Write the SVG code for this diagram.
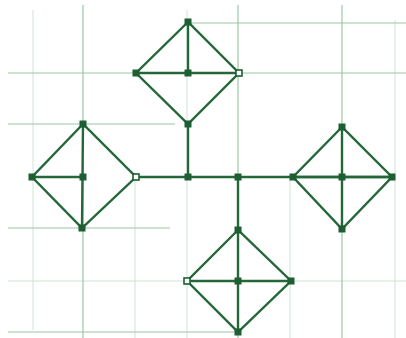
<svg xmlns="http://www.w3.org/2000/svg" width="406" height="338" viewBox="0 0 406 338">
<style>
.g{stroke:#9cc7a6;stroke-width:1.2;fill:none}
.gf{stroke:#cfe3d4;stroke-width:1;fill:none}
.e{stroke:#24683a;stroke-width:2.4;fill:none;stroke-linecap:round}
.n{fill:#1d5e32}
.h{fill:#fff;stroke:#1d5e32;stroke-width:1.6}
</style>
<rect width="406" height="338" fill="#fff"/>
<g id="grid">
<path class="gf" d="M33 10V330M135 180V338M290 180V338M395 20V338M187 10V338M8 281H406"/>
<path class="g" d="M83 5V338M238 5V338M342 5V338M190 23H406M8 73H406M8 124H175M8 228H170M8 332H240"/>
</g>
<g id="connectors">
<path class="e" d="M188 22L136 73L188 124L239 73Z M188 22V73 M136 73H239"/>
<path class="e" d="M188 124V177 M136 177H392 M238 177V230"/>
<path class="e" d="M83 124L32 177L82 228L136 177Z M83 124L82 228 M32 177H83"/>
<path class="e" d="M342 127L293 177L342 229L392 177Z M342 127V229 M293 177H392"/>
<path class="e" d="M238 230L187 281L238 332L291 281Z M238 230V332 M187 281H291"/>
</g>
<g id="n1"><rect class="n" x="184.5" y="18.5" width="7" height="7"/></g>
<g id="n2"><rect class="n" x="132.5" y="69.5" width="7" height="7"/></g>
<g id="n3"><rect class="n" x="184.5" y="69.5" width="7" height="7"/></g>
<g id="n4"><rect class="h" x="236" y="70" width="6" height="6"/></g>
<g id="n5"><rect class="n" x="184.5" y="120.5" width="7" height="7"/></g>
<g id="n6"><rect class="n" x="79.5" y="120.5" width="7" height="7"/></g>
<g id="n7"><rect class="n" x="28.5" y="173.5" width="7" height="7"/></g>
<g id="n8"><rect class="n" x="79.5" y="173.5" width="7" height="7"/></g>
<g id="n9"><rect class="h" x="133" y="174" width="6" height="6"/></g>
<g id="n10"><rect class="n" x="78.5" y="224.5" width="7" height="7"/></g>
<g id="n11"><rect class="n" x="184.5" y="173.5" width="7" height="7"/></g>
<g id="n12"><rect class="n" x="234.5" y="173.5" width="7" height="7"/></g>
<g id="n13"><rect class="n" x="289.5" y="173.5" width="7" height="7"/></g>
<g id="n14"><rect class="n" x="338.5" y="173.5" width="7" height="7"/></g>
<g id="n15"><rect class="n" x="388.5" y="173.5" width="7" height="7"/></g>
<g id="n16"><rect class="n" x="338.5" y="123.5" width="7" height="7"/></g>
<g id="n17"><rect class="n" x="338.5" y="225.5" width="7" height="7"/></g>
<g id="n18"><rect class="n" x="234.5" y="226.5" width="7" height="7"/></g>
<g id="n19"><rect class="h" x="184" y="278" width="6" height="6"/></g>
<g id="n20"><rect class="n" x="234.5" y="277.5" width="7" height="7"/></g>
<g id="n21"><rect class="n" x="287.5" y="277.5" width="7" height="7"/></g>
<g id="n22"><rect class="n" x="234.5" y="328.5" width="7" height="7"/></g>
</svg>
